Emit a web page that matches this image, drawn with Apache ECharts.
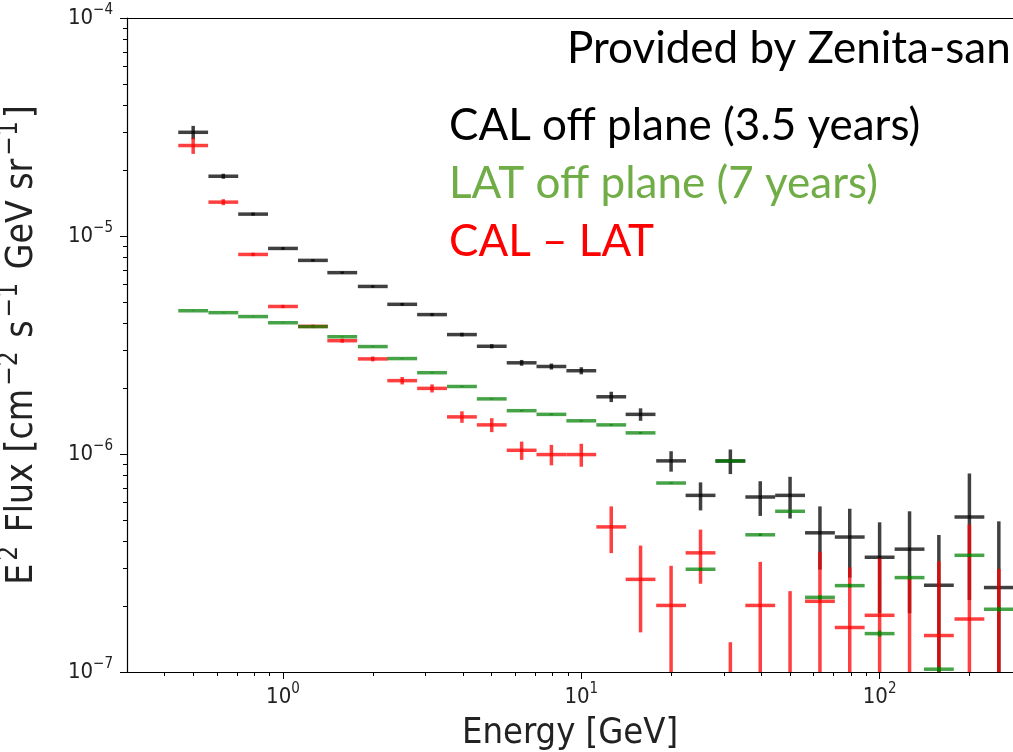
<!DOCTYPE html>
<html><head><meta charset="utf-8">
<script src="https://cdn.jsdelivr.net/npm/echarts@6/dist/echarts.min.js"></script>
<style>html,body{margin:0;padding:0;background:#fff}#c{width:1013px;height:752px}</style>
</head><body><div id="c"></div>
<script>
// ---- data ----
const energies = [0.5, 0.631, 0.794, 1.0, 1.26, 1.58, 2.0, 2.51, 3.16, 3.98, 5.01, 6.31, 7.94, 10.0,
  12.6, 15.8, 20.0, 25.1, 31.6, 39.8, 50.1, 63.1, 79.4, 100, 126, 158, 200, 251];
const binHalfRatio = 1.122; // bins are 0.1 dex wide

const calFlux = [2.99e-5, 1.88e-5, 1.26e-5, 8.77e-6, 7.73e-6, 6.79e-6, 5.87e-6, 4.86e-6, 4.36e-6, 3.53e-6,
  3.12e-6, 2.62e-6, 2.52e-6, 2.41e-6, 1.83e-6, 1.52e-6, 9.3e-7, 6.46e-7, 9.29e-7, 6.35e-7,
  6.46e-7, 4.35e-7, 4.16e-7, 3.36e-7, 3.66e-7, 2.5e-7, 5.14e-7, 2.44e-7];
const calErr = [2.1e-6, 5e-7, 2e-7, 1.2e-7, 1e-7, 8e-8, 7e-8, 7e-8, 7e-8, 7e-8,
  7e-8, 8e-8, 8e-8, 9e-8, 1e-7, 1e-7, 1e-7, 9.5e-8, 1.2e-7, 1.15e-7,
  1.4e-7, 1.4e-7, 1.45e-7, 1.5e-7, 1.8e-7, 1.75e-7, 3.0e-7, 2.47e-7];

const latFlux = [4.54e-6, 4.45e-6, 4.27e-6, 4.0e-6, 3.84e-6, 3.45e-6, 3.11e-6, 2.74e-6, 2.36e-6, 2.04e-6,
  1.79e-6, 1.58e-6, 1.52e-6, 1.42e-6, 1.36e-6, 1.25e-6, 7.36e-7, 2.96e-7, 9.29e-7, 4.26e-7,
  5.46e-7, 2.2e-7, 2.49e-7, 1.5e-7, 2.71e-7, 1.03e-7, 3.43e-7, 1.94e-7];
const latErr = [1e-8, 1e-8, 1e-8, 1e-8, 1e-8, 1e-8, 1e-8, 1e-8, 1e-8, 1e-8,
  1e-8, 1e-8, 1e-8, 1e-8, 1e-8, 1e-8, 5e-9, 5e-9, 5e-9, 5e-9,
  5e-9, 5e-9, 5e-9, 5e-9, 5e-9, 3e-9, 5e-9, 5e-9];

const diffFlux = [2.6e-5, 1.43e-5, 8.23e-6, 4.75e-6, 3.85e-6, 3.31e-6, 2.73e-6, 2.17e-6, 2.0e-6, 1.48e-6,
  1.36e-6, 1.04e-6, 9.94e-7, 9.94e-7, 4.63e-7, 2.66e-7, 2.02e-7, 3.52e-7, 2e-8, 2.02e-7,
  9.5e-8, 2.11e-7, 1.6e-7, 1.82e-7, 9.5e-8, 1.47e-7, 1.75e-7, 5e-8];
const diffErr = [2.2e-6, 4.5e-7, 1.5e-7, 8e-8, 7e-8, 7e-8, 7e-8, 8.5e-8, 8.5e-8, 9e-8,
  1e-7, 1e-7, 1.07e-7, 1.2e-7, 1.12e-7, 1.14e-7, 1.05e-7, 9.8e-8, 1.17e-7, 1.18e-7,
  1.4e-7, 1.45e-7, 1.42e-7, 1.5e-7, 1.8e-7, 1.75e-7, 3.0e-7, 2.47e-7];

const xRange = [0.3, 280];
const yRange = [1e-7, 1e-4];
const xMinorTicks = [0.4, 0.5, 0.6, 0.7, 0.8, 0.9, 2, 3, 4, 5, 6, 7, 8, 9, 20, 30, 40, 50, 60, 70, 80, 90, 200];
const yMinorTicks = [2e-7, 3e-7, 4e-7, 5e-7, 6e-7, 7e-7, 8e-7, 9e-7, 2e-6, 3e-6, 4e-6, 5e-6, 6e-6, 7e-6, 8e-6, 9e-6,
  2e-5, 3e-5, 4e-5, 5e-5, 6e-5, 7e-5, 8e-5, 9e-5];

const annotations = [
  {text: 'Provided by Zenita-san', color: '#000000'},
  {text: 'CAL off plane (3.5 years)', color: '#000000'},
  {text: 'LAT off plane (7 years)', color: '#70AD47'},
  {text: 'CAL \u2013 LAT', color: '#FF0000'}
];

// ---- rendering ----
const tickFont = "'DejaVu Sans Condensed', 'DejaVu Sans', sans-serif";
function powLabel(v) {
  const e = Math.log10(v);
  const r = Math.round(e);
  if (Math.abs(e - r) > 1e-6) return '';
  const s = String(r).replace('-', '\u2212');
  return '{b|10}{s|' + s + '}';
}
const richLab = {
  b: {fontSize: 22, fontFamily: tickFont, color: '#222'},
  s: {fontSize: 15, fontFamily: tickFont, color: '#222', padding: [0, 0, 15, 0]}
};
const nameRich = {
  n: {fontSize: 37, fontFamily: tickFont, color: '#222'},
  s: {fontSize: 26, fontFamily: tickFont, color: '#222', padding: [0, 3, 24, 3]}
};

function makeRender(color) {
  return function (params, api) {
    const E = api.value(0), F = api.value(1), err = api.value(2);
    const cs = params.coordSys;
    const top = cs.y, bottom = cs.y + cs.height, right = cs.x + cs.width;
    const children = [];
    const pc = api.coord([E, F]);
    const xl = api.coord([E / binHalfRatio, F])[0];
    const xr = Math.min(api.coord([E * binHalfRatio, F])[0], right);
    const style = {stroke: color, lineWidth: 3.5, lineCap: 'butt', fill: null};
    const hi = F + err, lo = F - err;
    let yHi = api.coord([E, hi])[1];
    let yLo = lo > 0 ? api.coord([E, lo])[1] : bottom;
    yHi = Math.max(yHi, top);
    yLo = Math.min(yLo, bottom);
    if (yHi < yLo && pc[0] <= right) {
      children.push({type: 'line', shape: {x1: pc[0], y1: yHi, x2: pc[0], y2: yLo}, style: style});
    }
    if (pc[1] >= top && pc[1] <= bottom) {
      children.push({type: 'line', shape: {x1: xl, y1: pc[1], x2: xr, y2: pc[1]}, style: style});
    }
    return {type: 'group', children: children};
  };
}

function toData(fl, er) { return energies.map((e, i) => [e, fl[i], er[i]]); }

const tickData = xMinorTicks.map(v => [v, 1e-6, 0]).concat(yMinorTicks.map(v => [1, v, 1]));

const chart = echarts.init(document.getElementById('c'), null, {renderer: 'canvas'});
const textFont = "Lato, 'Open Sans', sans-serif";
const annY = [49, 126, 184, 242];
chart.setOption({
  animation: false,
  backgroundColor: '#ffffff',
  grid: {left: 127, top: 18, right: 0, bottom: 80, containLabel: false, outerBoundsMode: 'none'},
  xAxis: [{
    type: 'log', logBase: 10, min: xRange[0], max: xRange[1],
    name: 'Energy [GeV]', nameLocation: 'middle', nameGap: 44,
    nameTextStyle: {fontSize: 36, fontFamily: tickFont, color: '#222', verticalAlign: 'top'},
    axisLine: {show: true, onZero: false, lineStyle: {color: '#000', width: 1.2}},
    axisTick: {show: true, inside: false, length: 7, lineStyle: {color: '#000', width: 1}},
    axisLabel: {show: true, margin: 10, formatter: powLabel, rich: richLab, showMinLabel: false, showMaxLabel: false},
    splitLine: {show: false}
  }, {
    type: 'log', logBase: 10, min: xRange[0], max: xRange[1], position: 'top',
    axisLine: {show: true, onZero: false, lineStyle: {color: '#000', width: 1.2}},
    axisTick: {show: false}, axisLabel: {show: false}, splitLine: {show: false}
  }],
  yAxis: {
    type: 'log', logBase: 10, min: yRange[0], max: yRange[1],
    name: '{n|E}{s|2}{n| Flux [cm}{s|\u22122}{n| s}{s|\u22121}{n| GeV sr}{s|\u22121}{n|]}',
    nameLocation: 'middle', nameGap: 80, nameRotate: 90,
    nameTextStyle: {rich: nameRich, color: '#222'},
    axisLine: {show: true, onZero: false, lineStyle: {color: '#000', width: 1.2}},
    axisTick: {show: true, inside: false, length: 7, lineStyle: {color: '#000', width: 1}},
    axisLabel: {show: true, margin: 14, formatter: powLabel, rich: richLab},
    splitLine: {show: false}
  },
  series: [
    {type: 'custom', name: 'CAL', xAxisIndex: 0, renderItem: makeRender('rgba(0,0,0,0.75)'), data: toData(calFlux, calErr), encode: {x: 0, y: 1}, clip: false, z: 2},
    {type: 'custom', name: 'CAL-LAT', xAxisIndex: 0, renderItem: makeRender('rgba(255,0,0,0.75)'), data: toData(diffFlux, diffErr), encode: {x: 0, y: 1}, clip: false, z: 3},
    {type: 'custom', name: 'LAT', xAxisIndex: 0, renderItem: makeRender('rgba(0,128,0,0.72)'), data: toData(latFlux, latErr), encode: {x: 0, y: 1}, clip: false, z: 4},
    {type: 'custom', name: 'minorTicks', xAxisIndex: 0, silent: true, clip: false, z: 5, encode: {x: 0, y: 1},
      data: tickData,
      renderItem: function (params, api) {
        const cs = params.coordSys;
        const isY = api.value(2) === 1;
        const p = api.coord([api.value(0), api.value(1)]);
        const st = {stroke: '#000', lineWidth: 1};
        if (isY) return {type: 'line', shape: {x1: cs.x - 4, y1: Math.round(p[1]) + 0.5, x2: cs.x, y2: Math.round(p[1]) + 0.5}, style: st};
        return {type: 'line', shape: {x1: Math.round(p[0]) + 0.5, y1: cs.y + cs.height, x2: Math.round(p[0]) + 0.5, y2: cs.y + cs.height + 4}, style: st};
      }
    }
  ],
  graphic: annotations.map((a, i) => ({
    type: 'text', x: i === 0 ? 567 : 449, y: annY[i], z: 100,
    style: {text: a.text, fill: a.color, fontSize: 44, fontFamily: textFont, verticalAlign: 'middle', align: 'left'}
  }))
});
</script></body></html>
